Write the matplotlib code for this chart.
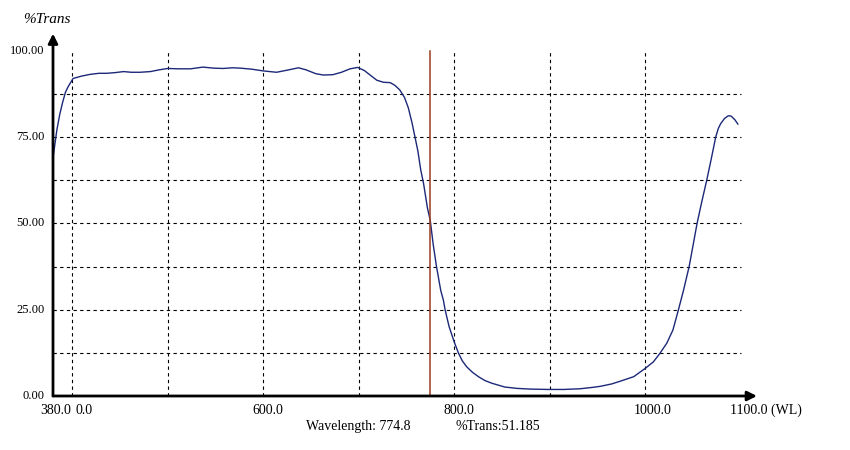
import matplotlib
matplotlib.use("Agg")
import matplotlib.pyplot as plt

# spectrum (wavelength nm, %T)
wl = [380, 384, 387, 390, 393, 396, 401, 410, 419, 428, 436, 445, 454, 462, 471,
      482, 491, 500, 512, 524, 537, 548, 558, 568, 576, 588, 600, 614, 625, 637,
      645, 655, 663, 673, 682, 691, 699, 706, 712, 719, 726, 733, 738, 743, 748,
      752, 756, 759, 762, 765, 768, 772, 775, 778, 781.5, 786, 788.7, 790.5, 794.7,
      800, 804.4, 808.5, 813, 819, 825.4, 832, 839.4, 853, 866, 880, 898, 915, 932,
      945, 953, 965, 974, 988, 1000, 1008.6, 1015, 1022.6, 1029, 1035, 1040, 1046,
      1050, 1054.3, 1059, 1064.4, 1069, 1073.8, 1076.5, 1079, 1083, 1087, 1090, 1094, 1097]
trans = [69, 77, 81.5, 85, 88, 89.7, 92, 92.7, 93.2, 93.5, 93.5, 93.7, 94, 93.8, 93.8,
         94, 94.5, 94.9, 94.8, 94.8, 95.3, 95, 94.9, 95.1, 95, 94.7, 94.2, 93.8, 94.4, 95.1,
         94.5, 93.4, 93, 93.1, 93.8, 94.8, 95.2, 94.3, 93, 91.5, 90.9, 90.8, 90, 88.7, 86.5,
         83.5, 79, 75, 71, 65.5, 61.5, 54.5, 50.8, 44, 37.5, 30.5, 27.8, 25, 20.1,
         15.7, 12.5, 10.2, 8.5, 6.9, 5.6, 4.5, 3.7, 2.6, 2.2, 2.0, 1.9, 1.9, 2.1,
         2.5, 2.8, 3.5, 4.3, 5.6, 8.0, 9.9, 12.2, 15.3, 19.1, 25.2, 30.5, 37.5,
         43.5, 50, 56, 62.5, 68.5, 75, 77.5, 78.9, 80.4, 81.2, 81.1, 80, 78.8]

cursor_wl = 774.8
cursor_t = 51.185

vgrid = [400, 500, 600, 700, 800, 900, 1000]
hgrid = [12.5, 25, 37.5, 50, 62.5, 75, 87.5]
ytick_vals = [100, 75, 50, 25, 0]
ytick_labels = ["100.00", "75.00", "50.00", "25.00", "0.00"]
xtick_vals = [380, 400, 600, 800, 1000]
xtick_labels = ["380.0", "0.0", "600.0", "800.0", "1000.0"]

plt.rcParams['font.family'] = ['Liberation Serif', 'DejaVu Serif']

fig = plt.figure(figsize=(8.5, 4.5), dpi=100)
ax = fig.add_axes([53/850, 54/450, (756-53)/850, (396-35)/450])
ax.set_xlim(380, 1116)
ax.set_ylim(0, 104.6)
ax.axis('off')

for x in vgrid:
    ax.plot([x, x], [0, 100], color='black', lw=0.8, ls=(0, (3, 3)))
for y in hgrid:
    ax.plot([380, 1100], [y, y], color='black', lw=0.8, ls=(0, (3, 3)))

ax.plot(wl, trans, color='#1c2878', lw=1.0)
ax.plot([cursor_wl, cursor_wl], [0, 100], color='#9b3a1e', lw=1.1)

# axes with arrows
arrow = dict(arrowstyle='-|>', lw=2.0, color='black', mutation_scale=14,
             shrinkA=0, shrinkB=0)
ax.annotate('', xy=(1117, 0), xytext=(380, 0), arrowprops=arrow, annotation_clip=False)
ax.annotate('', xy=(380, 105), xytext=(380, 0), arrowprops=arrow, annotation_clip=False)

for v, lab in zip(ytick_vals, ytick_labels):
    ax.text(371, v, lab, ha='right', va='center', fontsize=9)
xoffs = [2.5, 12, 5, 5, 8]
for v, lab, dx in zip(xtick_vals, xtick_labels, xoffs):
    ax.text(v + dx, -2.3, lab, ha='center', va='top', fontsize=10)
ax.text(1089, -2.3, '1100.0 (WL)', ha='left', va='top', fontsize=10)

ax.text(374, 109, '%Trans', ha='center', va='center', fontsize=11, style='italic')
ax.text(700, -7.0, 'Wavelength: %.1f' % cursor_wl, ha='center', va='top', fontsize=10)
ax.text(801, -7.0, '%%Trans:%.3f' % cursor_t, ha='left', va='top', fontsize=10)

plt.savefig('out.png', dpi=100)
